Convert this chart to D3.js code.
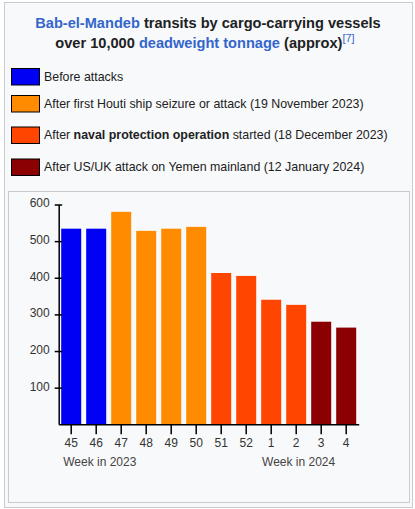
<!DOCTYPE html>
<html lang="en">
<head>
<meta charset="UTF-8">
<title>Bab-el-Mandeb transits</title>
<script src="https://cdnjs.cloudflare.com/ajax/libs/d3/7.8.5/d3.min.js"></script>
<style>
  body { margin: 0; background: #fff; }
  svg { display: block; font-family: "Liberation Sans", Arial, sans-serif; }
  .tick text { font-size: 12px; fill: #333; }
  .legend text { font-size: 12.4px; fill: #202122; }
</style>
</head>
<body>
<svg width="415" height="509"></svg>
<script>
// week labels and approximate transit counts
const weeks = ["45", "46", "47", "48", "49", "50", "51", "52", "1", "2", "3", "4"];
const transits = [534, 534, 580, 528, 534, 539, 413, 405, 340, 326, 280, 264];
const phase = [0, 0, 1, 1, 1, 1, 2, 2, 2, 2, 3, 3];
const phaseColors = ["#0000f5", "#ff8c00", "#ff4500", "#8b0000"];
const yTicks = [100, 200, 300, 400, 500, 600];

const svg = d3.select("svg");

// outer box
svg.append("rect")
    .attr("x", 4.5).attr("y", 2.5)
    .attr("width", 408).attr("height", 505)
    .attr("fill", "#f8f9fa").attr("stroke", "#c8ccd1");

// title
const title = svg.append("text")
    .attr("text-anchor", "middle")
    .style("font-size", "14.6px")
    .style("font-weight", "bold")
    .attr("fill", "#202122");
const t1 = title.append("tspan").attr("x", 208).attr("y", 28);
t1.append("tspan").attr("fill", "#3366cc").text("Bab-el-Mandeb");
t1.append("tspan").text(" transits by cargo-carrying vessels");
const t2 = title.append("tspan").attr("x", 205).attr("y", 48);
t2.append("tspan").text("over 10,000 ");
t2.append("tspan").attr("fill", "#3366cc").text("deadweight tonnage");
t2.append("tspan").text(" (approx)");
t2.append("tspan").attr("fill", "#3366cc").attr("dy", -6)
    .style("font-weight", "normal").style("font-size", "11px").text("[7]");

// legend
const legendItems = [
    [["Before attacks", false]],
    [["After first Houti ship seizure or attack (19 November 2023)", false]],
    [["After ", false], ["naval protection operation", true], [" started (18 December 2023)", false]],
    [["After US/UK attack on Yemen mainland (12 January 2024)", false]]
];
const legendY = [68.5, 95.5, 127, 159];
const legend = svg.append("g").attr("class", "legend");
legendItems.forEach((parts, i) => {
    legend.append("rect")
        .attr("x", 11.5).attr("y", legendY[i])
        .attr("width", 28).attr("height", 16.5)
        .attr("fill", phaseColors[i]).attr("stroke", "#000");
    const tx = legend.append("text").attr("x", 44).attr("y", legendY[i] + 12);
    parts.forEach(p => tx.append("tspan")
        .style("font-weight", p[1] ? "bold" : "normal").text(p[0]));
});

// inner chart box
svg.append("rect")
    .attr("x", 8.5).attr("y", 191.5)
    .attr("width", 401).attr("height", 311)
    .attr("fill", "#f8f9fa").attr("stroke", "#c8ccd1");

const x = d3.scaleBand()
    .domain(weeks)
    .range([58.7, 358.7])
    .paddingInner(0.2)
    .paddingOuter(0.1);

const y = d3.scaleLinear()
    .domain([0, 600])
    .range([424.3, 204.5]);

svg.append("g")
    .selectAll("rect")
    .data(weeks)
    .join("rect")
    .attr("x", d => x(d))
    .attr("width", x.bandwidth())
    .attr("y", (d, i) => y(transits[i]))
    .attr("height", (d, i) => y(0) - y(transits[i]))
    .attr("fill", (d, i) => phaseColors[phase[i]]);

// y axis
const yAxis = svg.append("g")
    .attr("transform", "translate(58.7,0)")
    .call(d3.axisLeft(y).tickValues(yTicks).tickSizeInner(4).tickSizeOuter(0).tickPadding(5));
yAxis.select(".domain").attr("stroke", "#000").attr("stroke-width", 1.5);
yAxis.selectAll(".tick line").attr("x1", 3.5).attr("stroke-width", 1.5);
yAxis.selectAll(".tick text").attr("dy", "0.2em");

// x axis
const xAxis = svg.append("g")
    .attr("transform", "translate(0,424.3)")
    .call(d3.axisBottom(x).tickSizeInner(10).tickSizeOuter(0).tickPadding(4));
xAxis.select(".domain").attr("stroke", "#000").attr("stroke-width", 1.5);
xAxis.selectAll(".tick line").attr("stroke-width", 1.5);

svg.append("text")
    .attr("x", x("45") + 2).attr("y", 466)
    .style("font-size", "12px").attr("fill", "#444")
    .text("Week in 2023");
svg.append("text")
    .attr("x", x("3") + x.bandwidth() + 4).attr("y", 466)
    .attr("text-anchor", "end")
    .style("font-size", "12px").attr("fill", "#444")
    .text("Week in 2024");
</script>
</body>
</html>
